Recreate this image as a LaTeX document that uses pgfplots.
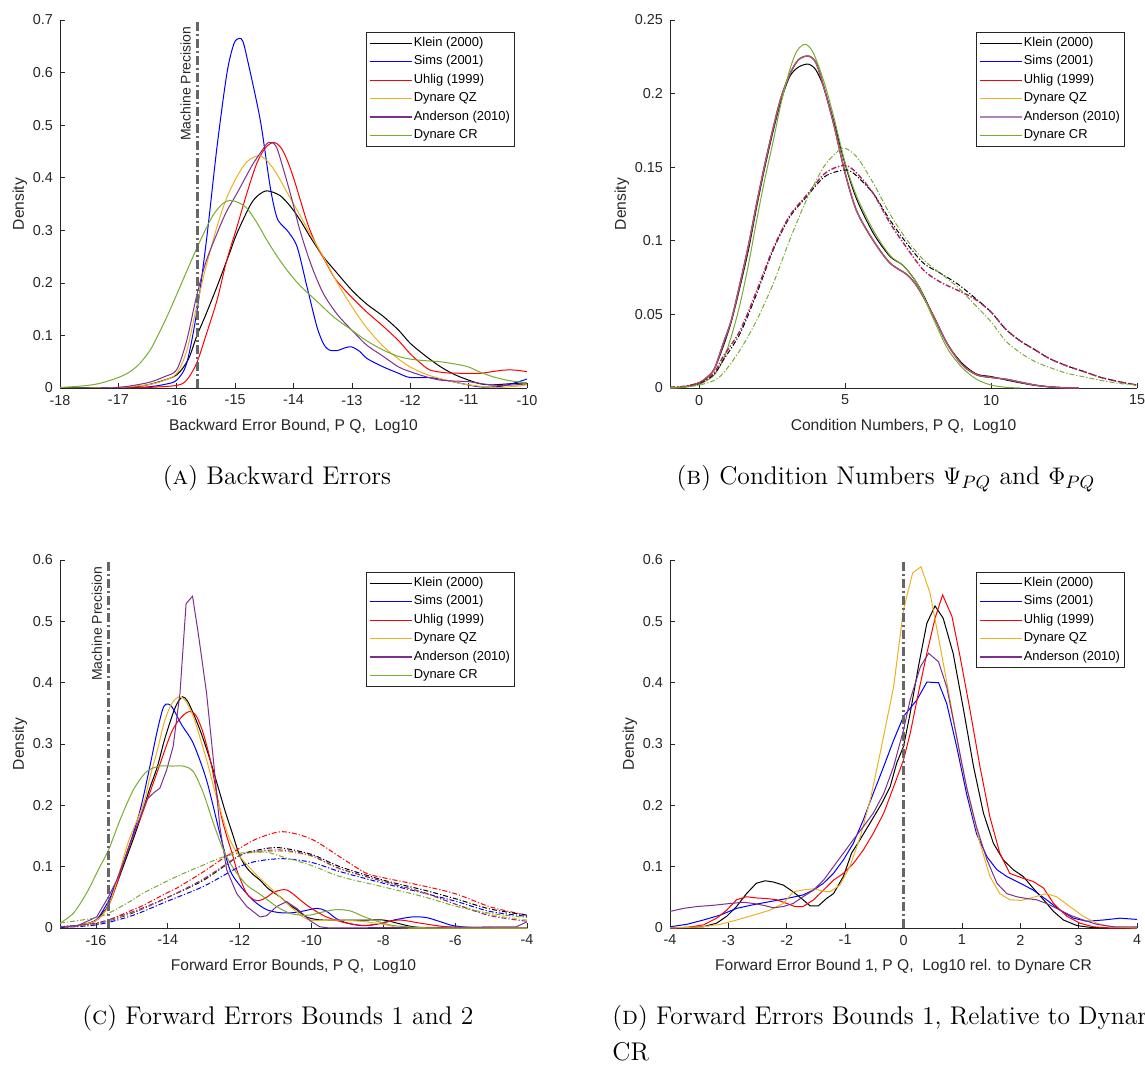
\documentclass[border=0pt]{standalone}
\usepackage{fontspec}
\setsansfont{Liberation Sans}
\usepackage{pgfplots}
\pgfplotsset{compat=1.18}
\definecolor{mblue}{rgb}{0,0,1}
\definecolor{mred}{rgb}{1,0,0}
\definecolor{mqz}{rgb}{0.929,0.694,0.125}
\definecolor{mpur}{rgb}{0.494,0.184,0.556}
\definecolor{mgrn}{rgb}{0.466,0.674,0.188}
\definecolor{axgray}{rgb}{0.15,0.15,0.15}
\definecolor{mpgray}{rgb}{0.40,0.40,0.40}
\pgfplotsset{
  legend image code/.code={\draw[mark repeat=2,mark phase=2,#1,line width=0.65pt] plot coordinates {(0pt,0pt) (10.5pt,0pt) (21pt,0pt)};},
  mstyle/.style={
    scale only axis, width=233.5pt, height=184pt,
    axis lines=left, axis line style={axgray,-,line width=0.35pt},
    tick align=inside, major tick length=2.3pt,
    tick style={axgray,line width=0.35pt},
    ticklabel style={font=\sffamily\fontsize{7.2}{8}\selectfont, text=axgray},
    /pgf/number format/assume math mode=true,
    yticklabel style={/pgf/number format/fixed,/pgf/number format/precision=2},
    label style={font=\sffamily\fontsize{7.8}{9}\selectfont, text=axgray},
    ylabel={Density}, ylabel shift=-4pt,
    legend style={font=\sffamily\fontsize{6.45}{7.5}\selectfont, draw=axgray,
      line width=0.35pt, at={(rel axis cs:0.974,0.967)}, anchor=north east,
      inner xsep=1.5pt, inner ysep=0.7pt, row sep=0pt,
      nodes={inner xsep=0.8pt, inner ysep=1.55pt}},
    legend cell align=left,
    every axis plot/.append style={line width=0.5pt},
  },
  sm/.style={smooth, tension=0.5},
  mp/.style={mpgray, line width=1.5pt, dash pattern=on 4.5pt off 1.5pt on 1pt off 1.5pt, forget plot},
  dd/.style={dash pattern=on 2.5pt off 1pt on 0.6pt off 1pt, forget plot},
}
\newcommand{\mpfont}{\sffamily\fontsize{7}{8}\selectfont}
\newcommand{\capfont}{\fontsize{12.8}{15}\selectfont}
\begin{document}
\begin{tikzpicture}
\useasboundingbox (0,0) rectangle (572.5pt,-535.5pt);
% ---------------- Panel A
\begin{axis}[mstyle, at={(30pt,-10pt)}, anchor=north west,
  xmin=-18, xmax=-10, ymin=0, ymax=0.7,
  xtick={-18,-17,...,-10}, ytick={0,0.1,...,0.7},
  xlabel={Backward Error Bound, P Q,\ \ Log10}]
\addplot[black,sm] coordinates {(-18,0) (-17.5,0.0003) (-17,0.001) (-16.6,0.004) (-16.3,0.012) (-16,0.025) (-15.8,0.055) (-15.66,0.098) (-15.5,0.14) (-15.31,0.193) (-15.1,0.255) (-14.97,0.294) (-14.74,0.348) (-14.6,0.367) (-14.45,0.375) (-14.23,0.366) (-14.05,0.345) (-13.89,0.32) (-13.7,0.285) (-13.49,0.25) (-13.25,0.218) (-13,0.186) (-12.75,0.16) (-12.46,0.136) (-12.2,0.11) (-12,0.085) (-11.75,0.062) (-11.49,0.041) (-11.25,0.026) (-11,0.015) (-10.8,0.008) (-10.6,0.006) (-10.3,0.008) (-10,0.01)};
\addlegendentry{Klein (2000)}
\addplot[mblue,sm] coordinates {(-17,0) (-16.5,0.002) (-16.2,0.007) (-16,0.015) (-15.83,0.047) (-15.66,0.142) (-15.49,0.282) (-15.31,0.459) (-15.14,0.599) (-15.02,0.655) (-14.93,0.665) (-14.87,0.66) (-14.8,0.63) (-14.57,0.51) (-14.4,0.383) (-14.29,0.326) (-14.2,0.31) (-14.11,0.30) (-13.94,0.269) (-13.77,0.193) (-13.6,0.117) (-13.49,0.085) (-13.4,0.073) (-13.26,0.071) (-13.1,0.077) (-13,0.078) (-12.87,0.07) (-12.74,0.056) (-12.46,0.04) (-12.2,0.028) (-12,0.02) (-11.6,0.019) (-11.14,0.009) (-10.8,0.002) (-10.46,0.003) (-10.2,0.01) (-10,0.017)};
\addlegendentry{Sims (2001)}
\addplot[mred,sm] coordinates {(-17,0) (-16.5,0.001) (-16,0.005) (-15.83,0.015) (-15.66,0.047) (-15.5,0.1) (-15.31,0.167) (-15.15,0.24) (-14.97,0.306) (-14.8,0.37) (-14.63,0.427) (-14.48,0.457) (-14.34,0.467) (-14.22,0.458) (-14.11,0.434) (-14,0.4) (-13.89,0.36) (-13.75,0.31) (-13.6,0.27) (-13.45,0.24) (-13.3,0.21) (-13.15,0.19) (-13,0.172) (-12.75,0.145) (-12.46,0.117) (-12.2,0.09) (-12,0.065) (-11.8,0.045) (-11.66,0.034) (-11.4,0.029) (-11.14,0.028) (-10.8,0.028) (-10.6,0.031) (-10.4,0.034) (-10.2,0.034) (-10,0.031)};
\addlegendentry{Uhlig (1999)}
\addplot[mqz,sm] coordinates {(-17.5,0) (-17,0.001) (-16.5,0.006) (-16.2,0.015) (-16,0.028) (-15.83,0.07) (-15.66,0.155) (-15.5,0.23) (-15.31,0.307) (-15.15,0.36) (-14.97,0.402) (-14.8,0.43) (-14.6,0.442) (-14.45,0.432) (-14.29,0.408) (-14.1,0.37) (-13.89,0.329) (-13.7,0.29) (-13.49,0.25) (-13.25,0.2) (-13,0.155) (-12.75,0.115) (-12.46,0.079) (-12.2,0.055) (-12,0.04) (-11.75,0.027) (-11.49,0.018) (-11.2,0.01) (-11,0.006) (-10.7,0.002) (-10.5,0.001) (-10.2,0.003) (-10,0.006)};
\addlegendentry{Dynare QZ}
\addplot[mpur,sm] coordinates {(-17.5,0) (-17,0.001) (-16.5,0.01) (-16.2,0.022) (-16,0.035) (-15.83,0.09) (-15.66,0.175) (-15.5,0.24) (-15.31,0.294) (-15.15,0.335) (-14.97,0.37) (-14.8,0.405) (-14.69,0.427) (-14.55,0.45) (-14.43,0.467) (-14.3,0.46) (-14.17,0.415) (-14.03,0.36) (-13.89,0.30) (-13.7,0.235) (-13.49,0.18) (-13.25,0.14) (-13,0.11) (-12.75,0.082) (-12.46,0.06) (-12.2,0.04) (-12,0.031) (-11.75,0.022) (-11.49,0.015) (-11.2,0.013) (-11,0.012) (-10.7,0.007) (-10.46,0.005) (-10.2,0.006) (-10,0.008)};
\addlegendentry{Anderson (2010)}
\addplot[mgrn,sm] coordinates {(-18,0.001) (-17.6,0.004) (-17.31,0.009) (-17,0.02) (-16.8,0.031) (-16.63,0.047) (-16.45,0.073) (-16.3,0.105) (-16.15,0.14) (-16,0.178) (-15.83,0.222) (-15.66,0.265) (-15.5,0.303) (-15.37,0.33) (-15.22,0.35) (-15.09,0.357) (-14.95,0.353) (-14.8,0.342) (-14.63,0.315) (-14.46,0.282) (-14.29,0.252) (-14.11,0.224) (-13.89,0.195) (-13.6,0.165) (-13.31,0.135) (-13,0.11) (-12.75,0.09) (-12.46,0.072) (-12.2,0.06) (-12,0.055) (-11.75,0.052) (-11.49,0.05) (-11.2,0.045) (-11,0.04) (-10.8,0.03) (-10.57,0.021) (-10.3,0.014) (-10,0.01)};
\addlegendentry{Dynare CR}
\addplot[mp] coordinates {(-15.65,0) (-15.65,0.7)};
\node[rotate=90, anchor=south east, inner sep=3pt, font=\mpfont, text=axgray] at (axis cs:-15.65,0.7) {Machine Precision};
\end{axis}
% ---------------- Panel B
\begin{axis}[mstyle, at={(335pt,-10pt)}, anchor=north west,
  xmin=-1, xmax=15, ymin=0, ymax=0.25,
  xtick={0,5,10,15}, ytick={0,0.05,...,0.25},
  xlabel={Condition Numbers, P Q,\ \ Log10}]
\addplot[black,sm] coordinates {(-1,0) (-0.5,0.0008) (0,0.0035) (0.25,0.0065) (0.52,0.013) (0.82,0.028) (1.1,0.045) (1.4,0.0688) (1.7,0.095) (1.97,0.123) (2.25,0.15) (2.54,0.175) (2.8,0.195) (3.1,0.2115) (3.4,0.218) (3.74,0.22) (4.0,0.216) (4.26,0.2047) (4.6,0.182) (5.0,0.152) (5.4,0.128) (5.97,0.105) (6.54,0.0893) (7.0,0.083) (7.5,0.07) (8.0,0.05) (8.5,0.03) (9.0,0.017) (9.5,0.0095) (10.0,0.0078) (10.5,0.0055) (11.0,0.0035) (11.5,0.0018) (12.0,0.0008) (12.5,0.0002) (12.7,0)};
\addlegendentry{Klein (2000)}
\addplot[mblue,sm] table {
x y
-1 0
-0.5 0.0008
0 0.0035
0.25 0.007
0.52 0.013
0.82 0.03
1.1 0.046
1.4 0.071
1.7 0.098
1.97 0.1254
2.25 0.152
2.54 0.177
2.8 0.197
3.1 0.213
3.4 0.223
3.74 0.2255
4.0 0.221
4.26 0.205
4.6 0.18
5.0 0.146
5.4 0.12
5.97 0.1
6.54 0.0848
7.12 0.077
7.5 0.068
8.0 0.05
8.5 0.03
9.0 0.016
9.5 0.009
10.0 0.0072
10.5 0.006
11.0 0.004
11.5 0.002
12.0 0.0008
12.5 0.0002
13 0
};
\addlegendentry{Sims (2001)}
\addplot[mred,sm] table {
x y
-1 0
-0.5 0.0008
0 0.0035
0.25 0.007
0.52 0.013
0.82 0.03
1.1 0.046
1.4 0.071
1.7 0.098
1.97 0.1254
2.25 0.152
2.54 0.177
2.8 0.197
3.1 0.213
3.4 0.223
3.74 0.2255
4.0 0.221
4.26 0.205
4.6 0.18
5.0 0.146
5.4 0.12
5.97 0.1
6.54 0.0848
7.12 0.077
7.5 0.068
8.0 0.05
8.5 0.03
9.0 0.016
9.5 0.009
10.0 0.0072
10.5 0.006
11.0 0.004
11.5 0.002
12.0 0.0008
12.5 0.0002
13 0
};
\addlegendentry{Uhlig (1999)}
\addplot[mqz,sm] table {
x y
-1 0
-0.5 0.0008
0 0.0035
0.25 0.007
0.52 0.013
0.82 0.03
1.1 0.046
1.4 0.071
1.7 0.098
1.97 0.1254
2.25 0.152
2.54 0.177
2.8 0.197
3.1 0.213
3.4 0.223
3.74 0.2255
4.0 0.221
4.26 0.205
4.6 0.18
5.0 0.146
5.4 0.12
5.97 0.1
6.54 0.0848
7.12 0.077
7.5 0.068
8.0 0.05
8.5 0.03
9.0 0.016
9.5 0.009
10.0 0.0072
10.5 0.006
11.0 0.004
11.5 0.002
12.0 0.0008
12.5 0.0002
13 0
};
\addlegendentry{Dynare QZ}
\addplot[mpur,sm,opacity=0.6,line width=0.8pt] table {
x y
-1 0
-0.5 0.0008
0 0.0035
0.25 0.007
0.52 0.013
0.82 0.03
1.1 0.046
1.4 0.071
1.7 0.098
1.97 0.1254
2.25 0.152
2.54 0.177
2.8 0.197
3.1 0.213
3.4 0.223
3.74 0.2255
4.0 0.221
4.26 0.205
4.6 0.18
5.0 0.146
5.4 0.12
5.97 0.1
6.54 0.0848
7.12 0.077
7.5 0.068
8.0 0.05
8.5 0.03
9.0 0.016
9.5 0.009
10.0 0.0072
10.5 0.006
11.0 0.004
11.5 0.002
12.0 0.0008
12.5 0.0002
13 0
};
\addlegendentry{Anderson (2010)}
\addplot[mgrn,sm] coordinates {(-1,0) (-0.5,0.0005) (0,0.0025) (0.25,0.005) (0.52,0.009) (0.82,0.019) (1.1,0.035) (1.4,0.057) (1.7,0.085) (1.97,0.114) (2.25,0.142) (2.54,0.168) (2.8,0.193) (3.1,0.216) (3.35,0.229) (3.63,0.2335) (3.9,0.228) (4.26,0.209) (4.6,0.185) (5.0,0.153) (5.4,0.13) (5.97,0.107) (6.54,0.09) (7.0,0.083) (7.5,0.07) (8.0,0.048) (8.5,0.027) (9.0,0.014) (9.5,0.006) (10.0,0.002) (10.5,0.0005) (11,0)};
\addlegendentry{Dynare CR}
\addplot[black,sm,dd] coordinates {(-1,0.0005) (-0.5,0.001) (0,0.003) (0.5,0.009) (0.82,0.0188) (1.4,0.037) (1.97,0.064) (2.54,0.094) (3.1,0.116) (3.68,0.13) (4.26,0.143) (4.7,0.147) (5.1,0.148) (5.4,0.144) (5.97,0.132) (6.54,0.114) (7.12,0.098) (7.69,0.0847) (8.26,0.078) (8.83,0.071) (9.4,0.062) (9.98,0.052) (10.5,0.04) (11,0.032) (11.5,0.026) (12,0.02) (12.6,0.015) (13.2,0.011) (13.8,0.007) (14.45,0.004) (15,0.002)};
\addplot[mred,sm,dd] table {
x y
-1 0.0005
-0.5 0.0012
0 0.0035
0.5 0.01
0.82 0.0213
1.4 0.039
1.97 0.066
2.54 0.095
3.1 0.117
3.68 0.131
4.26 0.145
4.7 0.15
5.05 0.151
5.4 0.146
5.97 0.132
6.54 0.112
7.12 0.095
7.69 0.08
8.26 0.072
8.83 0.0666
9.4 0.061
9.98 0.052
10.5 0.04
11 0.032
11.5 0.026
12 0.02
12.6 0.015
13.2 0.011
13.8 0.007
14.45 0.004
15 0.002
};
\addplot[mpur,sm,dd,opacity=0.6,line width=0.8pt] table {
x y
-1 0.0005
-0.5 0.0012
0 0.0035
0.5 0.01
0.82 0.0213
1.4 0.039
1.97 0.066
2.54 0.095
3.1 0.117
3.68 0.131
4.26 0.145
4.7 0.15
5.05 0.151
5.4 0.146
5.97 0.132
6.54 0.112
7.12 0.095
7.69 0.08
8.26 0.072
8.83 0.0666
9.4 0.061
9.98 0.052
10.5 0.04
11 0.032
11.5 0.026
12 0.02
12.6 0.015
13.2 0.011
13.8 0.007
14.45 0.004
15 0.002
};
\addplot[mgrn,sm,dd] coordinates {(-1,0.0003) (-0.5,0.0008) (0,0.002) (0.5,0.005) (0.82,0.01) (1.4,0.0258) (1.97,0.046) (2.54,0.0711) (3.1,0.1005) (3.68,0.128) (4.26,0.15) (4.6,0.158) (4.95,0.163) (5.4,0.157) (5.97,0.139) (6.54,0.118) (7.12,0.1005) (7.69,0.087) (8.26,0.078) (8.83,0.069) (9.4,0.0575) (10,0.045) (10.5,0.032) (11,0.024) (11.5,0.018) (12,0.014) (12.6,0.01) (13.2,0.0075) (13.8,0.005) (14.45,0.003) (15,0.002)};
\end{axis}
% ---------------- Panel C
\begin{axis}[mstyle, at={(30pt,-280pt)}, anchor=north west,
  xmin=-17, xmax=-4, ymin=0, ymax=0.6,
  xtick={-16,-14,...,-4}, ytick={0,0.1,...,0.6},
  xlabel={Forward Error Bounds, P Q,\ \ Log10}]
\addplot[black,sm] coordinates {(-17,0.002) (-16.67,0.003) (-16.3,0.006) (-16,0.0125) (-15.8,0.025) (-15.66,0.037) (-15.4,0.075) (-15.18,0.11) (-14.9,0.155) (-14.69,0.192) (-14.5,0.228) (-14.29,0.263) (-14.1,0.305) (-13.89,0.344) (-13.75,0.365) (-13.59,0.377) (-13.45,0.37) (-13.29,0.35) (-13.15,0.33) (-13,0.306) (-12.8,0.27) (-12.6,0.23) (-12.4,0.19) (-12.2,0.154) (-12,0.118) (-11.8,0.098) (-11.6,0.086) (-11.43,0.078) (-11.2,0.064) (-10.88,0.051) (-10.6,0.037) (-10.41,0.03) (-10.2,0.02) (-10.04,0.016) (-9.67,0.013) (-8.5,0.013) (-8,0.013) (-7.62,0.008) (-7.16,0.002) (-6.5,0) (-4,0)};
\addlegendentry{Klein (2000)}
\addplot[mblue,sm] coordinates {(-17,0.001) (-16.5,0.004) (-16,0.013) (-15.66,0.043) (-15.52,0.062) (-15.14,0.122) (-14.77,0.192) (-14.5,0.263) (-14.31,0.317) (-14.15,0.355) (-14.05,0.365) (-13.89,0.361) (-13.6,0.33) (-13.29,0.301) (-12.92,0.241) (-12.55,0.154) (-12.27,0.095) (-12,0.07) (-11.62,0.045) (-11.25,0.03) (-10.88,0.025) (-10.5,0.025) (-10.2,0.028) (-9.85,0.032) (-9.6,0.028) (-9.3,0.015) (-9,0.008) (-8.6,0.004) (-8.2,0.006) (-7.7,0.013) (-7.2,0.018) (-6.8,0.017) (-6.4,0.01) (-6.07,0.004) (-5.6,0.001) (-5,0) (-4,0)};
\addlegendentry{Sims (2001)}
\addplot[mred,sm] coordinates {(-17,0.001) (-16.5,0.004) (-16,0.012) (-15.66,0.035) (-15.4,0.075) (-15.1,0.13) (-14.69,0.19) (-14.29,0.255) (-13.89,0.32) (-13.6,0.345) (-13.38,0.353) (-13.2,0.345) (-13.01,0.317) (-12.8,0.27) (-12.64,0.22) (-12.5,0.18) (-12.36,0.15) (-12.2,0.12) (-12.08,0.095) (-11.95,0.075) (-11.8,0.056) (-11.6,0.046) (-11.43,0.045) (-11.25,0.05) (-11.06,0.058) (-10.85,0.062) (-10.69,0.062) (-10.5,0.055) (-10.32,0.046) (-10,0.032) (-9.58,0.018) (-9.02,0.008) (-8.47,0.004) (-7.9,0.01) (-7.53,0.013) (-6.98,0.008) (-6.4,0.003) (-5.9,0.001) (-5,0) (-4,0)};
\addlegendentry{Uhlig (1999)}
\addplot[mqz,sm] coordinates {(-17,0.001) (-16.5,0.004) (-16,0.012) (-15.66,0.035) (-15.4,0.08) (-15.1,0.14) (-14.69,0.2) (-14.5,0.245) (-14.29,0.29) (-14.1,0.335) (-13.9,0.365) (-13.69,0.377) (-13.5,0.37) (-13.29,0.345) (-13.1,0.31) (-12.9,0.27) (-12.7,0.225) (-12.5,0.185) (-12.3,0.148) (-12.1,0.125) (-11.99,0.116) (-11.7,0.097) (-11.43,0.081) (-10.88,0.051) (-10.41,0.026) (-10.04,0.013) (-9.21,0.013) (-8.47,0.01) (-7.81,0.004) (-7.3,0) (-4,0)};
\addlegendentry{Dynare QZ}
\addplot[mpur] coordinates {(-17,0.001) (-16.5,0.004) (-15.98,0.018) (-15.65,0.051) (-15.42,0.078) (-15.14,0.122) (-14.87,0.165) (-14.59,0.209) (-14.4,0.22) (-14.22,0.228) (-14.03,0.258) (-13.85,0.296) (-13.66,0.383) (-13.49,0.529) (-13.31,0.541) (-13.15,0.48) (-12.92,0.383) (-12.73,0.274) (-12.55,0.165) (-12.36,0.095) (-12.08,0.056) (-11.8,0.035) (-11.43,0.018) (-11.25,0.02) (-10.97,0.035) (-10.69,0.043) (-10.41,0.032) (-10.04,0.012) (-9.77,0.002) (-9.5,0) (-4.3,0.002) (-4,0.01)};
\addlegendentry{Anderson (2010)}
\addplot[mgrn,sm] coordinates {(-17,0.008) (-16.63,0.024) (-16.26,0.057) (-15.89,0.1) (-15.65,0.127) (-15.33,0.176) (-14.96,0.225) (-14.59,0.255) (-14.22,0.264) (-13.85,0.264) (-13.57,0.264) (-13.29,0.255) (-13.01,0.22) (-12.73,0.171) (-12.45,0.127) (-12.18,0.098) (-11.8,0.07) (-11.43,0.055) (-10.97,0.035) (-10.6,0.024) (-10.3,0.021) (-10.04,0.021) (-9.7,0.026) (-9.3,0.03) (-8.93,0.028) (-8.6,0.02) (-8.28,0.013) (-7.81,0.005) (-7.35,0.002) (-6.5,0) (-4,0)};
\addlegendentry{Dynare CR}
\addplot[mred,sm,dd] coordinates {(-17,0.002) (-16,0.007) (-15.65,0.013) (-15,0.029) (-14.68,0.037) (-14,0.058) (-13.75,0.065) (-13,0.092) (-12.5,0.112) (-12,0.13) (-11.5,0.146) (-10.8,0.157) (-10,0.145) (-9.21,0.116) (-8.5,0.09) (-8,0.082) (-7,0.07) (-6,0.056) (-5,0.034) (-4,0.021)};
\addplot[black,sm,dd] coordinates {(-17,0.002) (-16,0.007) (-15,0.024) (-14,0.05) (-13,0.078) (-12,0.118) (-11.5,0.127) (-10.9,0.131) (-10,0.12) (-9.21,0.1) (-8,0.078) (-6.88,0.062) (-5.95,0.047) (-5.03,0.031) (-4,0.021)};
\addplot[mblue,sm,dd] coordinates {(-17,0.001) (-16,0.005) (-15,0.02) (-14,0.044) (-13,0.068) (-12,0.1) (-11.5,0.109) (-10.8,0.113) (-10,0.107) (-9.21,0.092) (-8,0.073) (-6.88,0.057) (-5.95,0.043) (-5.03,0.027) (-4,0.019)};
\addplot[mqz,sm,dd] coordinates {(-17,0.002) (-16,0.007) (-15,0.025) (-14,0.05) (-13,0.08) (-12,0.118) (-11.5,0.123) (-10.8,0.125) (-10,0.117) (-9.21,0.096) (-8,0.076) (-6.88,0.057) (-5.95,0.038) (-5.03,0.022) (-4,0.013)};
\addplot[mpur,sm,dd] coordinates {(-17,0.002) (-16,0.008) (-15,0.026) (-14,0.05) (-13,0.08) (-12,0.118) (-11.5,0.125) (-10.8,0.127) (-10,0.118) (-9.21,0.097) (-8,0.076) (-6.88,0.058) (-5.95,0.038) (-5.03,0.02) (-4,0.011)};
\addplot[mgrn,sm,dd] coordinates {(-17,0.008) (-16.5,0.012) (-16,0.017) (-15.65,0.024) (-15,0.045) (-14.68,0.057) (-13.75,0.084) (-13,0.103) (-12.5,0.115) (-12,0.122) (-11.3,0.124) (-10.8,0.116) (-10,0.102) (-9.21,0.084) (-8,0.067) (-6.88,0.051) (-5.95,0.035) (-5.03,0.024) (-4,0.017)};
\addplot[mp] coordinates {(-15.65,0) (-15.65,0.6)};
\node[rotate=90, anchor=south east, inner sep=3pt, font=\mpfont, text=axgray] at (axis cs:-15.65,0.6) {Machine Precision};
\end{axis}
% ---------------- Panel D
\begin{axis}[mstyle, at={(335pt,-280pt)}, anchor=north west,
  xmin=-4, xmax=4, ymin=0, ymax=0.6,
  xtick={-4,-3,...,4}, ytick={0,0.1,...,0.6},
  xlabel={Forward Error Bound 1, P Q,\ \ Log10 rel. to Dynare CR}]
\addplot[black] coordinates {(-4,0) (-3.43,0.002) (-3.2,0.008) (-3.03,0.019) (-2.86,0.035) (-2.69,0.056) (-2.52,0.073) (-2.37,0.077) (-2.23,0.075) (-2.06,0.07) (-1.89,0.059) (-1.72,0.046) (-1.6,0.036) (-1.46,0.036) (-1.32,0.048) (-1.2,0.056) (-1.03,0.084) (-0.89,0.122) (-0.745,0.144) (-0.574,0.171) (-0.374,0.203) (-0.23,0.23) (-0.116,0.269) (0,0.296) (0.114,0.35) (0.255,0.426) (0.40,0.497) (0.54,0.525) (0.68,0.505) (0.85,0.448) (1.03,0.355) (1.2,0.263) (1.37,0.187) (1.54,0.138) (1.71,0.111) (1.88,0.095) (2.05,0.084) (2.22,0.065) (2.4,0.046) (2.57,0.027) (2.74,0.013) (2.97,0.004) (3.2,0.001) (3.5,0) (4,0)};
\addlegendentry{Klein (2000)}
\addplot[mblue] coordinates {(-4,0.002) (-3.71,0.006) (-3.43,0.013) (-3.14,0.021) (-2.86,0.032) (-2.57,0.038) (-2.29,0.043) (-2.0,0.048) (-1.72,0.054) (-1.54,0.062) (-1.37,0.073) (-1.2,0.089) (-1.03,0.111) (-0.86,0.138) (-0.69,0.176) (-0.52,0.219) (-0.34,0.263) (-0.17,0.306) (0,0.345) (0.23,0.372) (0.4,0.401) (0.6,0.4) (0.74,0.366) (0.91,0.296) (1.08,0.219) (1.25,0.154) (1.43,0.116) (1.6,0.095) (1.77,0.084) (2.0,0.073) (2.22,0.062) (2.45,0.046) (2.68,0.029) (2.91,0.016) (3.14,0.011) (3.42,0.013) (3.71,0.016) (4.0,0.014)};
\addlegendentry{Sims (2001)}
\addplot[mred] coordinates {(-4,0) (-3.71,0.001) (-3.43,0.005) (-3.2,0.016) (-3.03,0.029) (-2.86,0.046) (-2.69,0.051) (-2.52,0.049) (-2.34,0.048) (-2.17,0.046) (-2.0,0.040) (-1.86,0.035) (-1.72,0.035) (-1.54,0.046) (-1.37,0.062) (-1.2,0.078) (-1.03,0.089) (-0.86,0.105) (-0.69,0.127) (-0.52,0.154) (-0.34,0.187) (-0.17,0.23) (0,0.274) (0.114,0.317) (0.255,0.383) (0.4,0.448) (0.54,0.505) (0.67,0.543) (0.83,0.508) (0.97,0.442) (1.14,0.355) (1.31,0.263) (1.48,0.181) (1.65,0.122) (1.82,0.089) (2.05,0.081) (2.22,0.076) (2.4,0.065) (2.57,0.040) (2.8,0.019) (3.02,0.008) (3.25,0.002) (3.5,0) (4,0)};
\addlegendentry{Uhlig (1999)}
\addplot[mqz] coordinates {(-4,0) (-3.71,0.001) (-3.43,0.002) (-3.14,0.006) (-2.86,0.013) (-2.57,0.021) (-2.29,0.029) (-2.06,0.04) (-1.89,0.059) (-1.72,0.062) (-1.54,0.064) (-1.37,0.06) (-1.26,0.059) (-1.09,0.07) (-0.92,0.1) (-0.74,0.149) (-0.57,0.209) (-0.4,0.285) (-0.17,0.393) (0,0.519) (0.157,0.579) (0.30,0.589) (0.455,0.546) (0.63,0.458) (0.797,0.372) (0.97,0.279) (1.14,0.203) (1.31,0.138) (1.48,0.084) (1.65,0.056) (1.82,0.046) (2.02,0.045) (2.22,0.05) (2.45,0.056) (2.62,0.051) (2.85,0.035) (3.08,0.019) (3.31,0.008) (3.54,0.002) (4,0)};
\addlegendentry{Dynare QZ}
\addplot[mpur] coordinates {(-4,0.027) (-3.77,0.032) (-3.54,0.035) (-3.26,0.037) (-2.97,0.04) (-2.74,0.042) (-2.57,0.04) (-2.4,0.037) (-2.23,0.033) (-2.06,0.035) (-1.89,0.04) (-1.72,0.051) (-1.54,0.062) (-1.37,0.078) (-1.2,0.1) (-1.03,0.122) (-0.86,0.144) (-0.69,0.165) (-0.52,0.187) (-0.34,0.219) (-0.17,0.263) (0,0.323) (0.114,0.372) (0.29,0.426) (0.43,0.448) (0.6,0.434) (0.74,0.393) (0.91,0.312) (1.08,0.23) (1.25,0.165) (1.43,0.111) (1.6,0.073) (1.77,0.056) (1.94,0.051) (2.11,0.048) (2.28,0.046) (2.45,0.04) (2.62,0.032) (2.85,0.021) (3.08,0.013) (3.31,0.006) (3.6,0.002) (4,0.002)};
\addlegendentry{Anderson (2010)}
\addplot[mp] coordinates {(0,0) (0,0.6)};
\end{axis}
% ---------------- captions
\node[anchor=base, font=\capfont] at (138.5pt,-242pt) {(\textsc{a}) Backward Errors};
\node[anchor=base, font=\capfont] at (443pt,-242pt) {(\textsc{b}) Condition Numbers $\Psi_{PQ}$ and $\Phi_{PQ}$};
\node[anchor=base, font=\capfont] at (139pt,-512pt) {(\textsc{c}) Forward Errors Bounds 1 and 2};
\node[anchor=base west, inner sep=0pt, font=\capfont] at (306pt,-512pt) {(\textsc{d}) Forward Errors Bounds 1, Relative to Dynare};
\node[anchor=base west, inner sep=0pt, font=\capfont] at (306pt,-530pt) {CR};
\end{tikzpicture}
\end{document}
